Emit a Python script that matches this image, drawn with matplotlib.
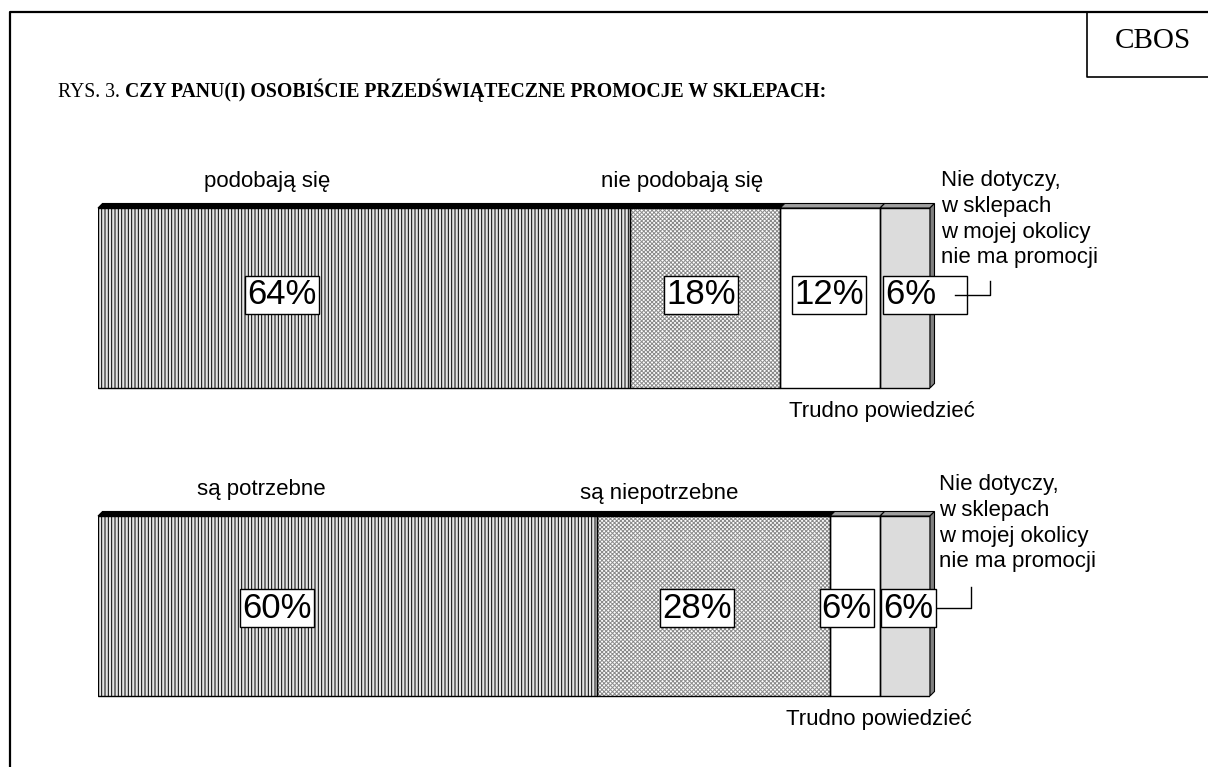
import numpy as np
import matplotlib
matplotlib.use("Agg")
import matplotlib.pyplot as plt
from matplotlib.patches import Polygon

# Dane z rysunku (w procentach)
shares_podobaja = [64, 18, 12, 6]
shares_potrzebne = [60, 28, 6, 6]
answers_podobaja = ['podobają się', 'nie podobają się']
answers_potrzebne = ['są potrzebne', 'są niepotrzebne']
label_trudno = 'Trudno powiedzieć'
label_nie_dotyczy = 'Nie dotyczy,\nw sklepach\nw mojej okolicy\nnie ma promocji'
title_prefix = 'RYS. 3. '
title_main = 'CZY PANU(I) OSOBIŚCIE PRZEDŚWIĄTECZNE PROMOCJE W SKLEPACH:'

# Wygląd segmentów
face_colors = ['#e4e4e4', 'white', 'white', '#dcdcdc']
hatch_colors = ['black', '#8a8a8a', 'black', 'black']
hatches = ['|||||', 'xxxxxxxx', '', '']
top_colors = ['black', 'black', '#a0a0a0', '#a0a0a0']
side_color = '#808080'

W, H = 1208, 767
plt.rcParams['hatch.linewidth'] = 0.7
sans = 'Liberation Sans'
serif = 'Liberation Serif'
label_size = 16

fig = plt.figure(figsize=(W / 100, H / 100), dpi=100)

# Warstwa w pikselach: ramka, tytuł, CBOS
frame = fig.add_axes([0, 0, 1, 1])
frame.set_xlim(0, W)
frame.set_ylim(H, 0)
frame.axis('off')
frame.plot([10, 10, W], [H, 12, 12], color='black', lw=1.6, solid_capstyle='butt')
frame.plot([1087, 1087, W], [12, 77, 77], color='black', lw=1.2, solid_capstyle='butt')
frame.text(1153, 41, 'CBOS', family=serif, fontsize=21, ha='center', va='center')
t1 = frame.text(58, 97, title_prefix, family=serif, fontsize=14.2, ha='left', va='baseline')
frame.annotate(title_main, xy=(1, 0), xycoords=t1, family=serif, fontsize=14.2,
               fontweight='bold', ha='left', va='bottom')

# Osie słupków: x w procentach, y w pikselach
bar_left, bar_width_px = 98, 832
ax = fig.add_axes([bar_left / W, 0, bar_width_px / W, 1])
ax.set_xlim(0, 100)
ax.set_ylim(H, 0)
ax.axis('off')
ax.patch.set_alpha(0)

bar_h = 180
depth = 4.5
dx = depth * 100 / bar_width_px


def draw_bar(yc, shares):
    shares = np.array(shares)
    lefts = np.concatenate([[0], np.cumsum(shares)[:-1]])
    top, bottom = yc - bar_h / 2, yc + bar_h / 2
    ax.barh([yc] * len(shares), shares, left=lefts, height=bar_h, color=face_colors,
            edgecolor=hatch_colors, hatch=hatches, linewidth=0)
    ax.barh([yc] * len(shares), shares, left=lefts, height=bar_h, fill=False,
            edgecolor='black', linewidth=1.0)
    # górna ścianka (efekt 3D)
    for x0, w, c in zip(lefts, shares, top_colors):
        x1 = x0 + w
        ax.add_patch(Polygon([(x0, top), (x0 + dx, top - depth), (x1 + dx, top - depth), (x1, top)],
                             closed=True, facecolor=c, edgecolor='black', lw=0.8, clip_on=False))
    x_end = lefts[-1] + shares[-1]
    ax.add_patch(Polygon([(x_end, top), (x_end + dx, top - depth), (x_end + dx, bottom - depth),
                          (x_end, bottom)], closed=True, facecolor=side_color,
                         edgecolor='black', lw=0.8, clip_on=False))


def pct_box(x, y, value, suffix=''):
    ax.text(x, y, f'{value}%{suffix}', family=sans, fontsize=25, ha='center', va='center',
            zorder=5, clip_on=False,
            bbox=dict(boxstyle='square,pad=0.06', facecolor='white', edgecolor='black', lw=1))


# Słupek 1
yc1 = 298
draw_bar(yc1, shares_podobaja)
box_x1 = [22.1, 72.5, 87.9, 99.4]
suffix1 = ['', '', '', '   ']
for x, v, s in zip(box_x1, shares_podobaja, suffix1):
    pct_box(x, yc1 - 3, v, s)
ax.plot([103.0, 107.2, 107.2], [295, 295, 281], color='black', lw=1, zorder=6, clip_on=False)
ax.text(12.7, 181, answers_podobaja[0], family=sans, fontsize=label_size, ha='left', va='center')
ax.text(60.5, 181, answers_podobaja[1], family=sans, fontsize=label_size, ha='left', va='center')
ax.text(101.3, 170, label_nie_dotyczy, family=sans, fontsize=label_size, ha='left', va='top',
        linespacing=1.3, clip_on=False)
ax.text(83.1, 411, label_trudno, family=sans, fontsize=label_size, ha='left', va='center',
        clip_on=False)

# Słupek 2
yc2 = 606
draw_bar(yc2, shares_potrzebne)
box_x2 = [21.5, 72.0, 90.0, 97.4]
for x, v in zip(box_x2, shares_potrzebne):
    pct_box(x, yc2 + 2, v)
ax.plot([100.8, 104.9, 104.9], [608, 608, 587], color='black', lw=1, zorder=6, clip_on=False)
ax.text(11.9, 490, answers_potrzebne[0], family=sans, fontsize=label_size, ha='left', va='center')
ax.text(57.9, 494, answers_potrzebne[1], family=sans, fontsize=label_size, ha='left', va='center')
ax.text(101.1, 474, label_nie_dotyczy, family=sans, fontsize=label_size, ha='left', va='top',
        linespacing=1.3, clip_on=False)
ax.text(82.7, 720, label_trudno, family=sans, fontsize=label_size, ha='left', va='center',
        clip_on=False)

fig.savefig('out.png', dpi=100, facecolor='white')
